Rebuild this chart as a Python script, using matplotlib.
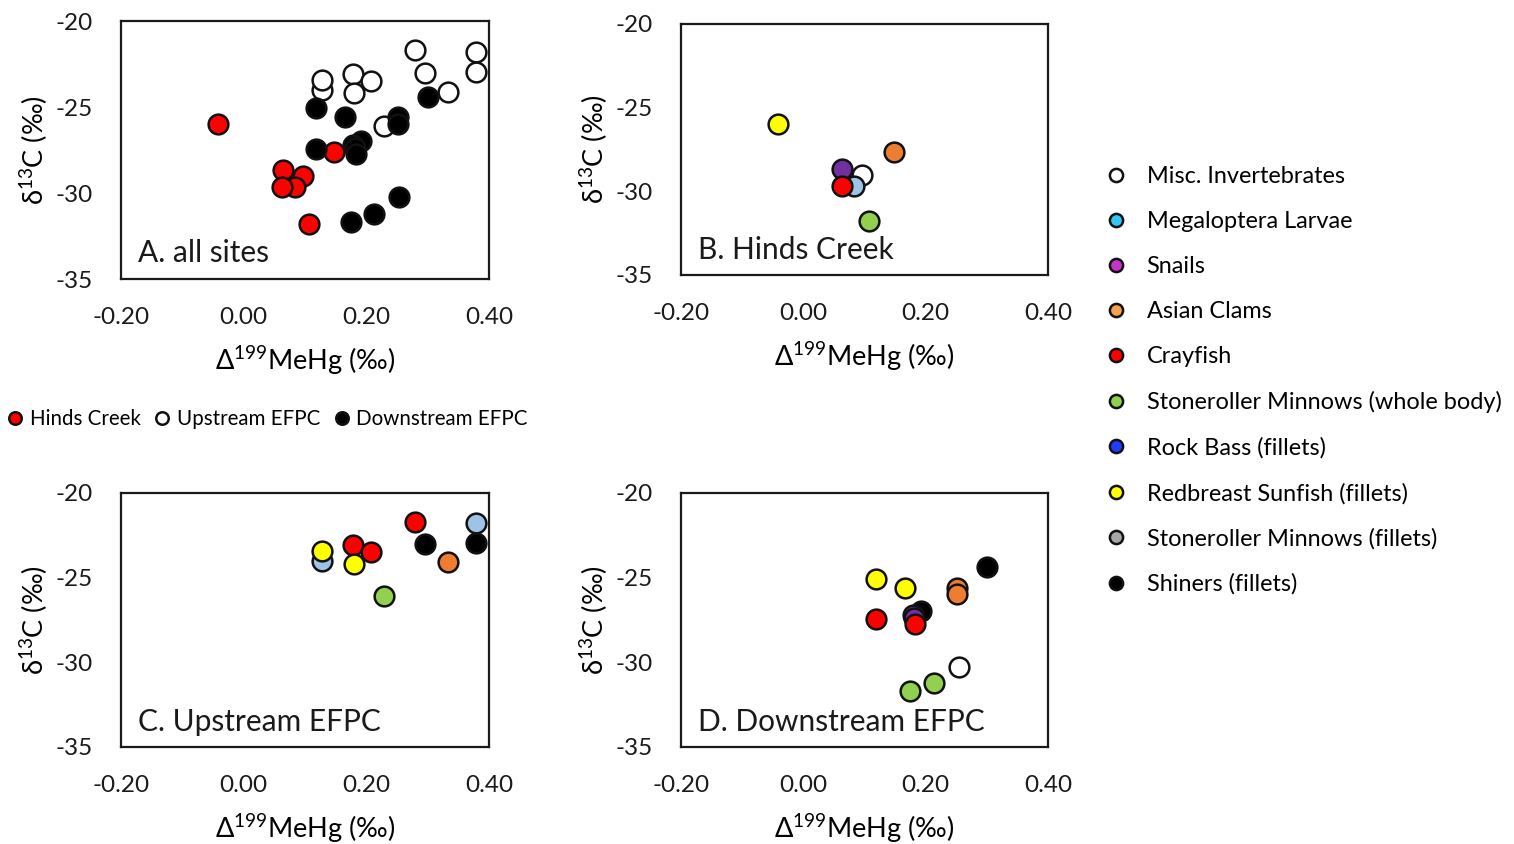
import matplotlib
matplotlib.use("Agg")
import matplotlib.pyplot as plt
from matplotlib.lines import Line2D

plt.rcParams['font.family'] = ['Lato', 'DejaVu Sans']
plt.rcParams['mathtext.default'] = 'regular'

# ---- data: (species, delta199 MeHg, delta13C) per site ----
hinds_species = ["Redbreast Sunfish (fillets)", "Asian Clams", "Snails", "Misc. Invertebrates",
                 "Megaloptera Larvae", "Crayfish", "Stoneroller Minnows (whole body)"]
hinds_d199 = [-0.042, 0.148, 0.064, 0.096, 0.083, 0.063, 0.107]
hinds_d13c = [-26.0, -27.63, -28.67, -29.03, -29.66, -29.66, -31.78]

up_species = ["Megaloptera Larvae", "Redbreast Sunfish (fillets)", "Crayfish", "Crayfish",
              "Redbreast Sunfish (fillets)", "Stoneroller Minnows (whole body)", "Crayfish",
              "Shiners (fillets)", "Asian Clams", "Megaloptera Larvae", "Shiners (fillets)"]
up_d199 = [0.128, 0.128, 0.179, 0.207, 0.180, 0.229, 0.279, 0.296, 0.333, 0.379, 0.379]
up_d13c = [-24.0, -23.45, -23.07, -23.47, -24.2, -26.1, -21.7, -23.0, -24.1, -21.8, -22.95]

down_species = ["Redbreast Sunfish (fillets)", "Redbreast Sunfish (fillets)", "Shiners (fillets)",
                "Asian Clams", "Asian Clams", "Shiners (fillets)", "Snails", "Snails",
                "Crayfish", "Crayfish", "Misc. Invertebrates",
                "Stoneroller Minnows (whole body)", "Stoneroller Minnows (whole body)"]
down_d199 = [0.118, 0.166, 0.301, 0.251, 0.251, 0.192, 0.179, 0.181, 0.118, 0.183, 0.254, 0.213, 0.175]
down_d13c = [-25.08, -25.59, -24.39, -25.59, -25.97, -26.95, -27.2, -27.4, -27.44, -27.73,
             -30.26, -31.24, -31.68]

species_order = ["Misc. Invertebrates", "Megaloptera Larvae", "Snails", "Asian Clams", "Crayfish",
                 "Stoneroller Minnows (whole body)", "Rock Bass (fillets)",
                 "Redbreast Sunfish (fillets)", "Stoneroller Minnows (fillets)", "Shiners (fillets)"]
# fill colours used on the panels
species_colors = ["#ffffff", "#9dc3e6", "#7030a0", "#ed7d31", "#ff0000",
                  "#92d050", "#1f3cff", "#ffff00", "#a6a6a6", "#000000"]
# fill colours used for the species key
key_colors = ["#ffffff", "#33c7f5", "#c832c8", "#f4a04e", "#ff0000",
              "#8fd14f", "#1f3cff", "#ffff00", "#a6a6a6", "#000000"]

site_names = ["Hinds Creek", "Upstream EFPC", "Downstream EFPC"]
site_colors = ["#ff0000", "#ffffff", "#000000"]

x_ticks = [-0.20, 0.00, 0.20, 0.40]
y_ticks = [-20, -25, -30, -35]

W, H = 1514, 844
fig = plt.figure(figsize=(W / 100, H / 100), dpi=100)


def box(l, t, r, b):
    return [l / W, 1 - b / H, (r - l) / W, (b - t) / H]


ax_a = fig.add_axes(box(121, 21, 489, 279))
ax_b = fig.add_axes(box(681, 24, 1048, 275))
ax_c = fig.add_axes(box(121, 493, 489, 747))
ax_d = fig.add_axes(box(681, 493, 1048, 747))

MS = 14.2
TICK_FS = 17.5
LABEL_FS = 19.5


def style(ax, label):
    ax.set_xlim(-0.20, 0.40)
    ax.set_ylim(-35, -20)
    ax.set_xticks(x_ticks)
    ax.set_xticklabels([f"{v:.2f}" for v in x_ticks])
    ax.set_yticks(y_ticks)
    ax.set_yticklabels([str(v) for v in y_ticks])
    ax.tick_params(length=0, labelsize=TICK_FS, colors="#1a1a1a")
    ax.tick_params(axis="x", pad=20)
    ax.tick_params(axis="y", pad=20)
    for s in ax.spines.values():
        s.set_linewidth(1.6)
        s.set_color("#1a1a1a")
    ax.set_xlabel(r"$\Delta^{199}$MeHg (‰)", fontsize=LABEL_FS, labelpad=12)
    ax.set_ylabel(r"$\delta^{13}$C (‰)", fontsize=LABEL_FS, labelpad=4)
    ax.text(0.045, 0.045, label, transform=ax.transAxes, fontsize=21.5, ha="left", va="bottom",
            color="#1a1a1a")


def plot_pts(ax, xs, ys, color):
    ax.plot(xs, ys, "o", ms=MS, mfc=color, mec="#111111", mew=1.8, clip_on=False)


# A: all sites coloured by site
for name, col, xs, ys in zip(site_names, site_colors,
                             [hinds_d199, up_d199, down_d199],
                             [hinds_d13c, up_d13c, down_d13c]):
    for x, y in zip(xs, ys):
        plot_pts(ax_a, [x], [y], col)
style(ax_a, "A. all sites")

# B-D: each site coloured by species
for ax, sp, xs, ys, label in [(ax_b, hinds_species, hinds_d199, hinds_d13c, "B. Hinds Creek"),
                              (ax_c, up_species, up_d199, up_d13c, "C. Upstream EFPC"),
                              (ax_d, down_species, down_d199, down_d13c, "D. Downstream EFPC")]:
    for s, x, y in zip(sp, xs, ys):
        plot_pts(ax, [x], [y], species_colors[species_order.index(s)])
    style(ax, label)

# site key
site_handles = [Line2D([], [], ls="", marker="o", ms=9, mfc=c, mec="#111111", mew=1.8)
                for c in site_colors]
fig.legend(site_handles, site_names, loc="center left", bbox_to_anchor=(-0.002, 1 - 419 / H),
           ncol=3, frameon=False, fontsize=14.8, handletextpad=0.2, columnspacing=0.55,
           handlelength=1.0, borderaxespad=0.0)

# species key
sp_handles = [Line2D([], [], ls="", marker="o", ms=9.5, mfc=c, mec="#111111", mew=1.8)
              for c in key_colors]
fig.legend(sp_handles, species_order, loc="upper left", bbox_to_anchor=(1095 / W, 1 - 157 / H),
           frameon=False, fontsize=16.9, handletextpad=0.8, labelspacing=1.02,
           handlelength=1.0, borderaxespad=0.0)

fig.savefig("out.png", dpi=100)
